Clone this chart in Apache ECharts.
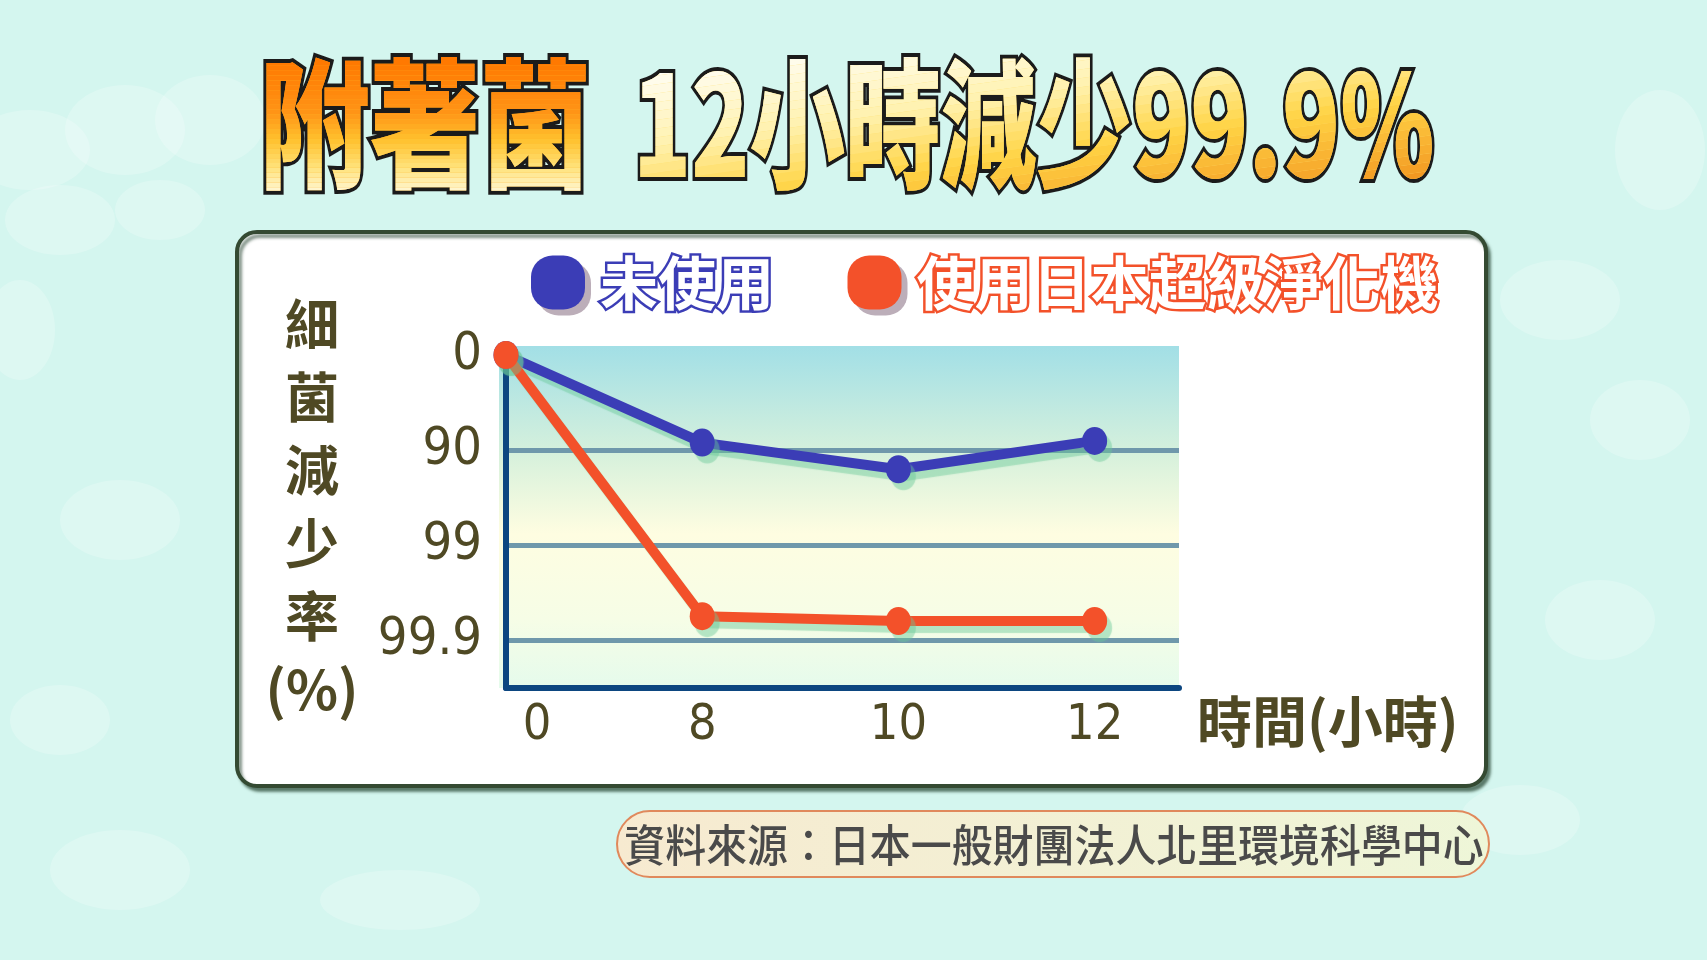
<!DOCTYPE html>
<html><head><meta charset="utf-8">
<script src="https://cdn.jsdelivr.net/npm/echarts@6/dist/echarts.min.js"></script>
<style>html,body{margin:0;padding:0;background:#d4f6ef;overflow:hidden}#c{width:1707px;height:960px}</style>
</head><body><div id="c"></div>
<script>
// ---- data ----
const hours = ['0', '8', '10', '12'];
const yTickLabels = ['0', '90', '99', '99.9'];
const seriesNames = ['未使用', '使用日本超級淨化機'];
const unusedRate = [0, 88.0, 93.7, 87.5];        // % reduction, no purifier
const purifierRate = [0, 99.82, 99.84, 99.84];   // % reduction, with purifier
const titleMain = '附著菌';
const titleSub = '12小時減少99.9%';
const yName = ['細', '菌', '減', '少', '率', '(%)'];
const xName = '時間(小時)';
const sourceText = '資料來源：日本一般財團法人北里環境科學中心';

// log-like reduction scale: 0 -> 0, 90 -> 1, 99 -> 2, 99.9 -> 3
function toPos(r) { return r <= 0 ? 0 : -Math.log10(1 - r / 100); }

const CJK = '"Noto Sans CJK TC", "Noto Sans CJK SC", sans-serif';
const NUM = '"Liberation Sans Narrow", "DejaVu Sans Condensed", "Liberation Sans", sans-serif';
const olive = '#4f4924';
const blue = '#3b3db6';
const red = '#f3512a';
const G = echarts.graphic;

// ---- helpers for gradient-filled title (text drawn in bands of solid colour) ----
function hex2rgb(h) { return [1, 3, 5].map(i => parseInt(h.substr(i, 2), 16)); }
function colorAt(stops, t) {
  t = Math.max(0, Math.min(1, t));
  for (let i = 1; i < stops.length; i++) {
    if (t <= stops[i][0]) {
      const a = stops[i - 1], b = stops[i];
      const f = (t - a[0]) / (b[0] - a[0] || 1);
      const ca = hex2rgb(a[1]), cb = hex2rgb(b[1]);
      return 'rgb(' + ca.map((v, k) => Math.round(v + (cb[k] - v) * f)).join(',') + ')';
    }
  }
  return stops[stops.length - 1][1];
}
function gradientTitle(cfg) {
  const font = cfg.font;
  const children = [{
    type: 'text', x: cfg.x, y: cfg.y, scaleX: cfg.scaleX,
    style: { text: cfg.text, font, fill: colorAt(cfg.stops, 0.5), stroke: '#1b1b1b', lineWidth: 8,
      textAlign: 'left', textVerticalAlign: 'middle',
      shadowColor: 'rgba(0,0,0,0.55)', shadowOffsetX: 3, shadowOffsetY: 3, shadowBlur: 2 }
  }];
  const n = cfg.bands, bx = cfg.box, W = bx[2] - bx[0], H = bx[3] - bx[1];
  const wu = cfg.wu, wv = 1 - cfg.wu;
  const xl = bx[0] - 60, xr = bx[2] + 60;
  function yAt(t, x) { return bx[1] + H * (t - wu * (x - bx[0]) / W) / wv; }
  for (let i = 0; i < n; i++) {
    const ta = i === 0 ? -2 : i / n, tb = i === n - 1 ? 3 : (i + 1) / n;
    children.push({
      type: 'group',
      clipPath: { type: 'polygon', shape: { points: [[xl, yAt(ta, xl)], [xr, yAt(ta, xr)], [xr, yAt(tb, xr)], [xl, yAt(tb, xl)]] } },
      children: [{
        type: 'text', x: cfg.x, y: cfg.y, scaleX: cfg.scaleX,
        style: { text: cfg.text, font, fill: colorAt(cfg.stops, (i + 0.5) / n),
          textAlign: 'left', textVerticalAlign: 'middle' }
      }]
    });
  }
  return { type: 'group', children };
}

const blobs = [
  [30, 150, 60, 40], [125, 130, 60, 45], [210, 120, 55, 45], [60, 220, 55, 35], [160, 210, 45, 30],
  [20, 330, 35, 50], [120, 520, 60, 40], [60, 720, 50, 35], [1560, 300, 60, 40], [1640, 420, 50, 40],
  [1600, 620, 55, 40], [1520, 820, 60, 35], [120, 870, 70, 40], [400, 900, 80, 30], [1660, 150, 45, 60]
];
const decor = blobs.map(b => ({
  type: 'ellipse', z: -5, silent: true,
  shape: { cx: b[0], cy: b[1], rx: b[2], ry: b[3] },
  style: { fill: 'rgba(255,255,255,0.22)' }
}));

const chart = echarts.init(document.getElementById('c'));
const shadowGreen = 'rgba(105,200,150,0.45)';
const titleFont = '900 140px ' + CJK;
const titleY = 124;

const option = {
  backgroundColor: '#d4f6ef',
  animation: false,
  graphic: decor.concat([
    { type: 'rect', z: -3, silent: true,
      shape: { x: 237, y: 232, width: 1249, height: 554, r: 20 },
      style: { fill: '#ffffff', stroke: '#344a32', lineWidth: 4,
               shadowColor: 'rgba(30,60,40,0.55)', shadowOffsetX: 3, shadowOffsetY: 4, shadowBlur: 3 } },
    { type: 'rect', z: -2, silent: true,
      shape: { x: 499, y: 346, width: 680, height: 342 },
      style: { fill: new G.LinearGradient(0, 0, 0, 1, [
        { offset: 0, color: '#a2dfe6' }, { offset: 0.32, color: '#d7f1dc' },
        { offset: 0.55, color: '#fefde1' }, { offset: 0.8, color: '#f6fde6' }, { offset: 1, color: '#e5fbec' }]) } },
    { type: 'rect', z: 1, silent: true,
      shape: { x: 617, y: 811, width: 872, height: 66, r: 33 },
      style: { fill: new G.LinearGradient(0, 0, 1, 0, [
        { offset: 0, color: '#f7ead0' }, { offset: 1, color: '#eef6d8' }]),
        stroke: '#e0895c', lineWidth: 2 } },
    { type: 'text', z: 2, x: 1054, y: 845, scaleX: 0.93, silent: true,
      style: { text: sourceText, font: '500 44px ' + CJK, fill: '#4a4a4a',
               textAlign: 'center', verticalAlign: 'middle', textVerticalAlign: 'middle' } }
  ]),
  legend: {
    left: 526, top: 246, itemWidth: 54, itemHeight: 54, itemGap: 71,
    icon: 'path://M8,0H12A8,8 0 0 1 20,8V12A8,8 0 0 1 12,20H8A8,8 0 0 1 0,12V8A8,8 0 0 1 8,0Z',
    itemStyle: { shadowColor: '#bcaeb9', shadowOffsetX: 6, shadowOffsetY: 6, shadowBlur: 0 },
    textStyle: { fontFamily: CJK, fontSize: 58, fontWeight: 'bold', color: '#ffffff',
      textBorderWidth: 5, textShadowColor: '#c4b8c1', textShadowOffsetX: 4, textShadowOffsetY: 4, textShadowBlur: 0,
      padding: [0, 0, 0, 10] },
    data: [
      { name: seriesNames[0], textStyle: { textBorderColor: blue } },
      { name: seriesNames[1], textStyle: { textBorderColor: red } }
    ]
  },
  grid: { left: 506, top: 355, width: 673, height: 333 },
  xAxis: {
    type: 'value', min: 0, max: 3.43, interval: 1,
    axisLine: { show: true, onZero: false, lineStyle: { color: '#0c4680', width: 6 } },
    axisTick: { show: false }, splitLine: { show: false },
    axisLabel: {
      margin: 13, fontFamily: NUM, fontSize: 50, color: olive,
      formatter: v => {
        const i = Math.round(v);
        if (Math.abs(v - i) > 1e-6 || i >= hours.length) return '';
        return i === 0 ? '{s|' + hours[0] + '}' : hours[i];
      },
      rich: { s: { fontFamily: NUM, fontSize: 50, color: olive, padding: [0, 0, 0, 62] } }
    },
    name: xName, nameLocation: 'end', nameGap: 18,
    nameTextStyle: { fontFamily: CJK, fontSize: 55, fontWeight: 'bold', color: olive,
                     verticalAlign: 'top', padding: [6, 0, 0, 0] }
  },
  yAxis: {
    type: 'value', inverse: true, min: 0, max: 3.5, interval: 1, offset: 7,
    axisLine: { show: true, lineStyle: { color: '#0c4680', width: 6 } },
    axisTick: { show: false },
    splitLine: { show: true, showMinLine: false, showMaxLine: false, lineStyle: { color: '#6f98ab', width: 5 } },
    axisLabel: {
      margin: 17, fontFamily: NUM, fontSize: 52, color: olive,
      formatter: v => {
        const i = Math.round(v);
        if (Math.abs(v - i) > 1e-6 || i >= yTickLabels.length) return '';
        return yTickLabels[i];
      }
    },
    name: yName.join('\n') + '\n{g|}', nameLocation: 'middle', nameRotate: 0, nameGap: 187,
    nameTextStyle: { fontFamily: CJK, fontSize: 54, fontWeight: 'bold', color: olive,
                     lineHeight: 73, align: 'center', verticalAlign: 'middle',
                     rich: { g: { fontSize: 10, lineHeight: 30, height: 30 } } }
  },
  series: [
    { name: seriesNames[0], type: 'line', z: 3,
      data: unusedRate.map((r, i) => [i, toPos(r)]),
      symbol: 'circle', symbolSize: [25, 28],
      lineStyle: { color: blue, width: 10, shadowColor: shadowGreen, shadowOffsetX: 5, shadowOffsetY: 7, shadowBlur: 1 },
      itemStyle: { color: blue, shadowColor: shadowGreen, shadowOffsetX: 5, shadowOffsetY: 7, shadowBlur: 1 } },
    { name: seriesNames[1], type: 'line', z: 4,
      data: purifierRate.map((r, i) => [i, toPos(r)]),
      symbol: 'circle', symbolSize: [25, 28],
      lineStyle: { color: red, width: 10, shadowColor: shadowGreen, shadowOffsetX: 5, shadowOffsetY: 7, shadowBlur: 1 },
      itemStyle: { color: red, shadowColor: shadowGreen, shadowOffsetX: 5, shadowOffsetY: 7, shadowBlur: 1 } },
    { type: 'custom', coordinateSystem: 'none', silent: true, z: 10, data: [0],
      renderItem: () => ({
        type: 'group',
        children: [
          gradientTitle({ text: titleMain, x: 259, y: titleY, scaleX: 0.79, font: titleFont,
            box: [259, 61, 592, 197], wu: 0, bands: 28,
            stops: [[0, '#ff7800'], [0.38, '#ff9416'], [0.58, '#ffc22e'], [0.78, '#ffe27a'], [1, '#fffbe8']] }),
          gradientTitle({ text: titleSub, x: 633, y: titleY, scaleX: 0.683, font: titleFont,
            box: [635, 61, 1432, 197], wu: 0.45, bands: 28,
            stops: [[0, '#ffffff'], [0.35, '#fff2b0'], [0.6, '#ffd445'], [0.85, '#f6a52a'], [1, '#ec8614']] })
        ]
      }) }
  ]
};
chart.setOption(option);
</script>
</body></html>
